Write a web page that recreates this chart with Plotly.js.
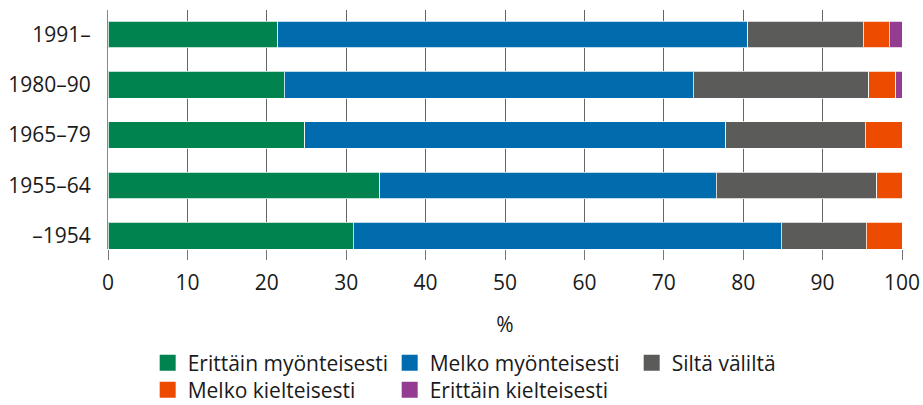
<!DOCTYPE html>
<html>
<head>
<meta charset="utf-8">
<script src="https://cdn.plot.ly/plotly-3.0.1.min.js"></script>
<style>html,body{margin:0;padding:0;background:#fff}#chart{width:923px;height:405px}</style>
</head>
<body>
<div id="chart"></div>
<script>
// Categories (bottom to top)
const categories = ["–1954", "1955–64", "1965–79", "1980–90", "1991–"];
const seriesNames = ["Erittäin myönteisesti", "Melko myönteisesti", "Siltä väliltä", "Melko kielteisesti", "Erittäin kielteisesti"];
const erittainMyont = [30.9, 34.2, 24.8, 22.2, 21.4];
const melkoMyont    = [53.9, 42.4, 53.0, 51.5, 59.2];
const siltaValilta  = [10.7, 20.2, 17.6, 22.1, 14.5];
const melkoKielt    = [4.5, 3.2, 4.6, 3.4, 3.3];
const erittainKielt = [0.0, 0.0, 0.0, 0.8, 1.6];
const xTickVals = [0, 10, 20, 30, 40, 50, 60, 70, 80, 90, 100];
const xTitle = "%";

const colors = ["#00834F", "#006CAD", "#5B5B5A", "#EC4B00", "#943C91"];
const values = [erittainMyont, melkoMyont, siltaValilta, melkoKielt, erittainKielt];
const legendRow = ["legend", "legend", "legend", "legend2", "legend2"];

const traces = [];
values.forEach((v, i) => {
  traces.push({
    type: "bar", orientation: "h",
    y: categories, x: v, name: seriesNames[i],
    marker: {color: colors[i], line: {color: "rgba(255,255,255,0.75)", width: 1}},
    width: 0.53, showlegend: false, hoverinfo: "x+name"
  });
});
values.forEach((v, i) => {
  traces.push({
    type: "scatter", mode: "markers", x: [null], y: [null], name: seriesNames[i],
    marker: {symbol: "square", size: 16, color: colors[i]}, showlegend: true,
    legend: legendRow[i]
  });
});

const font = {family: "Open Sans, Noto Sans, sans-serif", size: 21, color: "#1a1a1a"};
const legendBase = {
  orientation: "h", xref: "container", yref: "container",
  x: 0.160, xanchor: "left",
  entrywidth: 197, entrywidthmode: "pixels",
  font: font, traceorder: "normal", itemclick: false, bgcolor: "rgba(0,0,0,0)"
};
const layout = {
  width: 923, height: 405,
  margin: {l: 108, r: 21, t: 10, b: 156},
  paper_bgcolor: "#fff", plot_bgcolor: "#fff",
  font: font,
  barmode: "stack",
  xaxis: {
    range: [0, 100], tickvals: xTickVals, ticks: "outside", ticklen: 10, tickcolor: "#777",
    showgrid: true, gridcolor: "#666", gridwidth: 1, zeroline: false, showline: false,
    ticklabelstandoff: 5,
    tickfont: font, title: {text: xTitle, font: font, standoff: 22}, fixedrange: true
  },
  yaxis: {
    type: "category", categoryorder: "array", categoryarray: categories,
    range: [-0.265, 4.485], showgrid: false, zeroline: false,
    showline: true, linecolor: "#888", linewidth: 1, ticks: "", ticklabelstandoff: 12,
    tickfont: font, fixedrange: true
  },
  legend: Object.assign({}, legendBase, {y: 1 - 363 / 405, yanchor: "middle"}),
  legend2: Object.assign({}, legendBase, {y: 1 - 390 / 405, yanchor: "middle"}),
  showlegend: true
};
Plotly.newPlot("chart", traces, layout, {displayModeBar: false, staticPlot: true});
</script>
</body>
</html>
